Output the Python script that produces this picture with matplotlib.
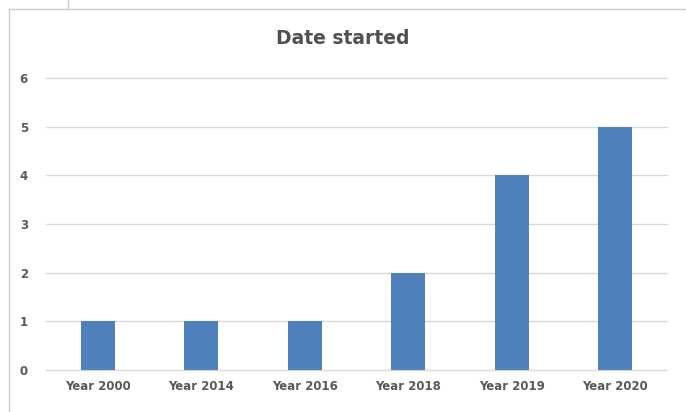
import matplotlib.pyplot as plt
from matplotlib.patches import Rectangle
from matplotlib.lines import Line2D

# --- Data ---
categories = ['Year 2000', 'Year 2014', 'Year 2016', 'Year 2018', 'Year 2019', 'Year 2020']
counts = [1, 1, 1, 2, 4, 5]
yticks = [0, 1, 2, 3, 4, 5, 6]

W, H = 686, 412
fig = plt.figure(figsize=(W/100, H/100), dpi=100)
fig.patch.set_facecolor('white')

# chart frame (Excel-style border, running off right/bottom edges)
fig.patches.append(Rectangle((9/W, -0.1), 1.2, 1 - 9/H + 0.1, transform=fig.transFigure,
                             fill=False, edgecolor='#cccccc', lw=1.0))
fig.lines.append(Line2D([68/W, 68/W], [1 - 8/H, 1.0], transform=fig.transFigure,
                        color='#cccccc', lw=1.0))

ax = fig.add_axes([46/W, 1 - 370/H, (667 - 46)/W, (370 - 78)/H])
x = range(len(categories))
ax.bar(x, counts, width=0.33, color='#4f81bd', zorder=3)

ax.set_xlim(-0.5, len(categories) - 0.5)
ax.set_ylim(0, 6)
ax.set_yticks(yticks)
ax.set_xticks(list(x))
ax.set_xticklabels(categories)
ax.grid(axis='y', color='#d9d9d9', lw=1.0, zorder=0)
for gl in ax.get_ygridlines():
    gl.set_clip_on(False)
for s in ax.spines.values():
    s.set_visible(False)
ax.tick_params(length=0, labelsize=8.5, labelcolor='#595959')
ax.tick_params(axis='y', pad=13)
ax.tick_params(axis='x', pad=7)
for lbl in ax.get_xticklabels() + ax.get_yticklabels():
    lbl.set_fontweight('bold')

fig.text(0.5, 1 - 38/H, 'Date started', ha='center', va='center',
         fontsize=13.5, fontweight='bold', color='#505050')

fig.savefig('out.png', dpi=100)
